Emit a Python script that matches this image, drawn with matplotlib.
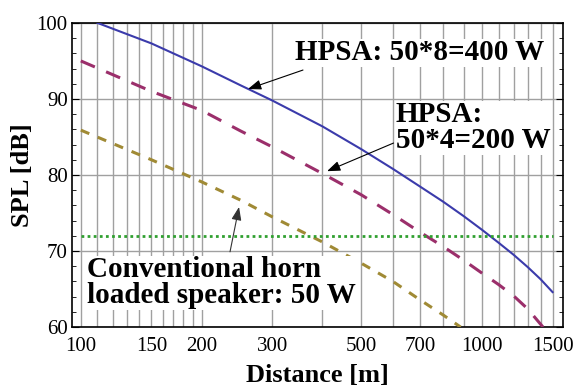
import numpy as np
import matplotlib
matplotlib.use("Agg")
import matplotlib.pyplot as plt
from matplotlib.ticker import FixedLocator, NullFormatter, MultipleLocator

# values
dist_400 = [110, 150, 200, 250, 300, 400, 500, 600, 700, 800, 900, 1000, 1100, 1200, 1300, 1400, 1500]
spl_400 = [100, 97.3, 94.3, 91.8, 89.8, 86.4, 83.4, 80.8, 78.5, 76.5, 74.6, 72.8, 71.1, 69.5, 67.9, 66.3, 64.6]

dist_200 = [100, 150, 200, 250, 300, 400, 500, 600, 700, 800, 900, 1000, 1100, 1200, 1300, 1420]
spl_200 = [95.0, 91.0, 88.5, 85.8, 83.7, 80.2, 77.4, 74.8, 72.5, 70.6, 68.8, 67.1, 65.6, 64.1, 62.4, 60.0]

dist_50 = [100, 150, 200, 250, 300, 400, 500, 600, 700, 800, 885]
spl_50 = [85.9, 82.0, 79.1, 76.7, 74.5, 71.2, 68.4, 66.0, 63.6, 61.6, 60.0]

threshold_dist = [100, 1500]
threshold_spl = [72, 72]

xtick_vals = [100, 150, 200, 300, 500, 700, 1000, 1500]
xgrid_vals = list(range(100, 200, 10)) + list(range(200, 1600, 100))

serif = "Liberation Serif"

fig = plt.figure(figsize=(5.75, 3.88), dpi=100)
ax = fig.add_axes([0.125, 0.157, 0.854, 0.784])

ax.plot(dist_400, spl_400, color="#3b3bab", lw=1.5, zorder=3)
ax.plot(dist_200, spl_200, color="#9b2f6b", lw=2.2, dashes=(5, 4), zorder=3)
ax.plot(dist_50, spl_50, color="#a08a35", lw=2.2, dashes=(3, 3), zorder=3)
ax.plot(threshold_dist, threshold_spl, color="#30a030", lw=2.0, dashes=(1, 1.2), zorder=3)

ax.set_xscale("log")
ax.set_xlim(95, 1592)
ax.set_ylim(60, 100)

ax.xaxis.set_major_locator(FixedLocator(xtick_vals))
ax.set_xticklabels([str(v) for v in xtick_vals])
ax.xaxis.set_minor_locator(FixedLocator(xgrid_vals))
ax.xaxis.set_minor_formatter(NullFormatter())
ax.yaxis.set_major_locator(MultipleLocator(10))
ax.yaxis.set_minor_locator(MultipleLocator(2))

ax.grid(True, which="both", axis="x", color="#a0a0a0", lw=1.0, zorder=1)
ax.grid(True, which="major", axis="y", color="#a0a0a0", lw=1.0, zorder=1)

ax.tick_params(which="both", direction="in", top=True, right=True)
ax.tick_params(which="major", length=5, labelsize=15, pad=3)
ax.tick_params(which="minor", length=3)
ax.tick_params(axis="x", which="both", length=0, pad=7)
for lab in ax.get_xticklabels() + ax.get_yticklabels():
    lab.set_fontfamily(serif)

for s in ax.spines.values():
    s.set_linewidth(1.2)

ax.set_xlabel("Distance [m]", fontfamily=serif, fontweight="bold", fontsize=19, labelpad=6)
ax.set_ylabel("SPL [dB]", fontfamily=serif, fontweight="bold", fontsize=19, labelpad=2)

box = dict(facecolor="white", edgecolor="none", pad=0.5)
txt = dict(fontfamily=serif, fontweight="bold", fontsize=21, zorder=5, bbox=box)
ax.text(342, 96.05, "HPSA: 50*8=400 W", ha="left", va="center", **txt)
ax.text(609, 86.2, "HPSA:\n50*4=200 W", ha="left", va="center", linespacing=0.95, **txt)
ax.text(103.5, 65.85, "Conventional horn\nloaded speaker: 50 W", ha="left", va="center",
        linespacing=0.95, **txt)

arrow = dict(arrowstyle="-|>,head_length=0.8,head_width=0.3", color="black", lw=0.8,
             shrinkA=0, shrinkB=0)
ax.annotate("", xy=(261, 91.3), xytext=(358, 93.8), arrowprops=arrow, zorder=6)
ax.annotate("", xy=(411, 80.5), xytext=(602, 84.2), arrowprops=arrow, zorder=6)
ax.annotate("", xy=(248, 75.8), xytext=(235.5, 69.9),
            arrowprops=dict(arrow, color="#333333"), zorder=6)

fig.savefig("out.png", dpi=100)
